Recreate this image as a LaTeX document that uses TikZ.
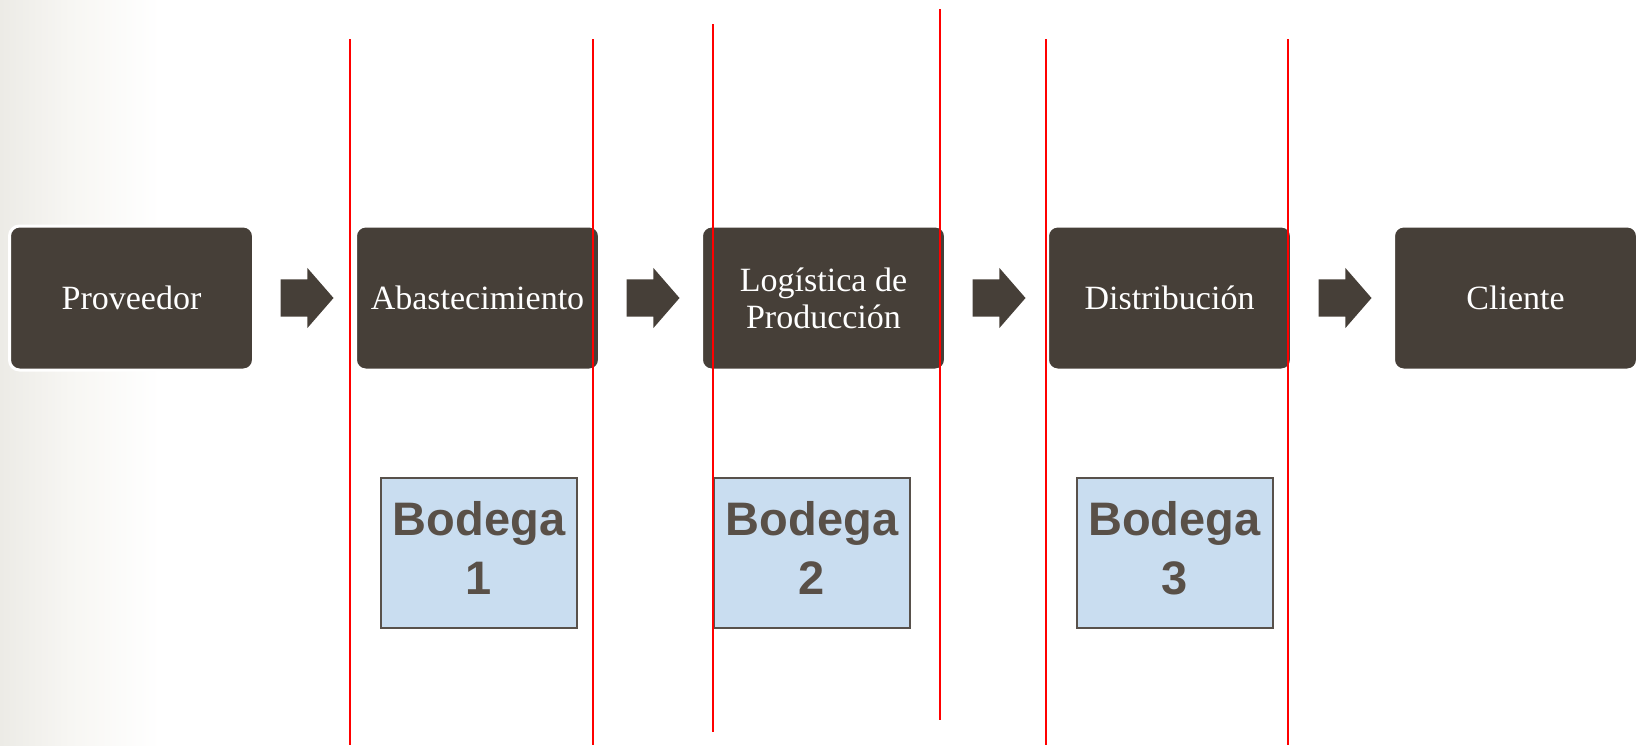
\documentclass[tikz,border=0pt]{standalone}
\usepackage{fontspec}
\setmainfont{Liberation Serif}
\setsansfont{Liberation Sans}
\usetikzlibrary{positioning, shapes.arrows}
\definecolor{cafe}{HTML}{463F38}
\definecolor{celeste}{HTML}{C9DDF0}
\definecolor{borde}{HTML}{58514B}
\definecolor{letra}{HTML}{595048}
\definecolor{fondo}{HTML}{ECEBE6}
\definecolor{fondomedio}{HTML}{F7F6F3}
\tikzset{stage/.style={rectangle, rounded corners=10pt, fill=cafe, draw=white,
        line width=3pt, minimum width=244pt, minimum height=144pt, outer sep=0pt,
        align=center, text=white, font=\fontsize{34}{37}\selectfont},
    flecha/.style={single arrow, fill=cafe, inner xsep=0pt, inner ysep=18.5pt,
        minimum height=53pt, single arrow head extend=11.5pt,
        single arrow tip angle=98, outer sep=0pt},
    bodega/.style={rectangle, fill=celeste, draw=borde, line width=2pt,
        minimum width=196pt, minimum height=150pt, align=center, text=letra,
        text depth=10pt, font=\sffamily\bfseries\fontsize{47}{59}\selectfont},
    corte/.style={red, line width=2pt}}

\begin{document}
\begin{tikzpicture}[x=1pt, y=-1pt]

        \useasboundingbox (0,0) rectangle (1645,745);
        \fill[left color=fondo, right color=fondomedio] (0,0) rectangle (70,745);
        \fill[left color=fondomedio, right color=white] (70,0) rectangle (160,745);

        % etapas de la cadena
        \node[stage] (prov) at (131.5,298) {Proveedor};
        \node[stage, right=102pt of prov] (abas) {Abastecimiento};
        \node[stage, right=102pt of abas] (prod) {Logística de\\Producción};
        \node[stage, right=102pt of prod] (dist) {Distribución};
        \node[stage, right=102pt of dist] (clie) {Cliente};

        \node[flecha, right=27pt of prov] (f1) {};
        \node[flecha, right=27pt of abas] (f2) {};
        \node[flecha, right=27pt of prod] (f3) {};
        \node[flecha, right=27pt of dist] (f4) {};

        % bodegas
        \node[bodega] (b1) at (479,552.5) {Bodega\\1};
        \node[bodega] (b2) at (812,552.5) {Bodega\\2};
        \node[bodega] (b3) at (1174.5,552.5) {Bodega\\3};

        % lineas de corte
        \draw[corte] (350,39) -- (350,745);
        \draw[corte] (593,39) -- (593,745);
        \draw[corte] (713,24) -- (713,732);
        \draw[corte] (940,9) -- (940,720);
        \draw[corte] (1046,39) -- (1046,745);
        \draw[corte] (1288,39) -- (1288,745);

\end{tikzpicture}
\end{document}
